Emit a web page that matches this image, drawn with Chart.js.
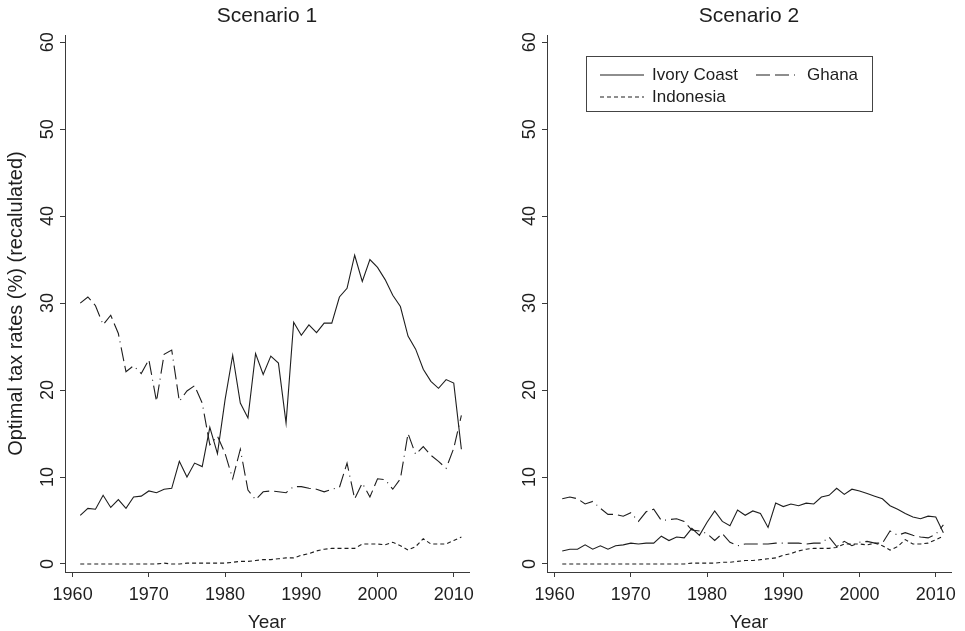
<!DOCTYPE html>
<html>
<head>
<meta charset="utf-8">
<script src="https://cdn.jsdelivr.net/npm/chart.js@4"></script>
<style>
  html, body { margin: 0; padding: 0; background: #fff; }
  #wrap { position: relative; width: 965px; height: 631px; }
  .panel { position: absolute; top: 0; height: 631px; }
</style>
</head>
<body>
<div id="wrap">
  <div class="panel" style="left:0;width:482px"><canvas id="left"></canvas></div>
  <div class="panel" style="left:482px;width:483px"><canvas id="right"></canvas></div>
</div>
<script>
// years 1961-2011
const years = [1961, 1962, 1963, 1964, 1965, 1966, 1967, 1968, 1969, 1970,
  1971, 1972, 1973, 1974, 1975, 1976, 1977, 1978, 1979, 1980,
  1981, 1982, 1983, 1984, 1985, 1986, 1987, 1988, 1989, 1990,
  1991, 1992, 1993, 1994, 1995, 1996, 1997, 1998, 1999, 2000,
  2001, 2002, 2003, 2004, 2005, 2006, 2007, 2008, 2009, 2010,
  2011];

const xTicks = [1960, 1970, 1980, 1990, 2000, 2010];
const yTicks = [0, 10, 20, 30, 40, 50, 60];
const countries = ['Ivory Coast', 'Ghana', 'Indonesia'];

// Scenario 1
const ivory1 = [5.6, 6.4, 6.3, 7.9, 6.5, 7.4, 6.4, 7.7, 7.8, 8.4,
  8.2, 8.6, 8.7, 11.8, 10.0, 11.6, 11.2, 15.7, 12.7, 18.9,
  24.0, 18.5, 16.8, 24.2, 21.8, 23.9, 23.1, 16.2, 27.8, 26.3,
  27.5, 26.6, 27.7, 27.7, 30.7, 31.7, 35.5, 32.5, 35.0, 34.1,
  32.7, 30.9, 29.6, 26.2, 24.7, 22.4, 21.0, 20.2, 21.2, 20.8,
  13.2];
const ghana1 = [30.0, 30.7, 29.7, 27.5, 28.6, 26.5, 22.1, 22.8, 21.9, 23.5,
  18.7, 24.1, 24.6, 18.7, 19.9, 20.5, 18.5, 13.7, 14.7, 12.7,
  9.8, 13.2, 8.5, 7.4, 8.3, 8.4, 8.3, 8.2, 8.9, 8.9,
  8.7, 8.6, 8.3, 8.6, 8.8, 11.6, 7.5, 9.3, 7.7, 9.8,
  9.7, 8.6, 9.8, 15.0, 12.6, 13.5, 12.5, 11.8, 11.0, 13.3,
  17.1];
const indo1 = [0.0, 0.0, 0.0, 0.0, 0.0, 0.0, 0.0, 0.0, 0.0, 0.0,
  0.0, 0.1, 0.0, 0.0, 0.1, 0.1, 0.1, 0.1, 0.1, 0.1,
  0.2, 0.3, 0.3, 0.4, 0.5, 0.5, 0.6, 0.7, 0.7, 1.0,
  1.2, 1.5, 1.7, 1.8, 1.8, 1.8, 1.8, 2.3, 2.3, 2.3,
  2.2, 2.5, 2.1, 1.6, 2.0, 2.9, 2.3, 2.3, 2.3, 2.7,
  3.1];

// Scenario 2
const ivory2 = [1.5, 1.7, 1.7, 2.2, 1.7, 2.1, 1.7, 2.1, 2.2, 2.4,
  2.3, 2.4, 2.4, 3.2, 2.7, 3.1, 3.0, 4.1, 3.3, 4.8,
  6.1, 4.9, 4.4, 6.2, 5.6, 6.1, 5.8, 4.2, 7.0, 6.6,
  6.9, 6.7, 7.0, 6.9, 7.7, 7.9, 8.7, 8.0, 8.6, 8.4,
  8.1, 7.8, 7.5, 6.7, 6.3, 5.8, 5.4, 5.2, 5.5, 5.4,
  3.6];
const ghana2 = [7.5, 7.7, 7.5, 6.9, 7.2, 6.4, 5.7, 5.7, 5.5, 5.9,
  4.9, 6.0, 6.3, 5.0, 5.1, 5.2, 4.9, 3.9, 3.8, 3.5,
  2.7, 3.5, 2.5, 2.1, 2.3, 2.3, 2.3, 2.3, 2.4, 2.4,
  2.4, 2.4, 2.3, 2.4, 2.4, 3.1, 2.0, 2.6, 2.1, 2.5,
  2.6, 2.4, 2.4, 3.8, 3.3, 3.6, 3.3, 3.1, 3.0, 3.4,
  4.5];
const indo2 = [0.0, 0.0, 0.0, 0.0, 0.0, 0.0, 0.0, 0.0, 0.0, 0.0,
  0.0, 0.0, 0.0, 0.0, 0.0, 0.0, 0.0, 0.1, 0.1, 0.1,
  0.1, 0.2, 0.2, 0.3, 0.4, 0.4, 0.5, 0.6, 0.7, 1.0,
  1.2, 1.5, 1.7, 1.8, 1.8, 1.8, 1.9, 2.3, 2.3, 2.3,
  2.2, 2.4, 2.1, 1.6, 2.0, 2.8, 2.3, 2.3, 2.4, 2.8,
  3.2];

const FONT = '"Liberation Sans", Arial, Helvetica, sans-serif';
const INK = '#1e1e1e';
const AXIS = '#3a3a3a';
const dashes = [[], [14, 5, 14, 5, 1, 5], [4, 3]];

function makeDatasets(series) {
  return series.map((vals, i) => ({
    label: countries[i],
    data: vals,
    borderColor: INK,
    borderWidth: 1.1,
    borderDash: dashes[i],
    pointRadius: 0,
    fill: false,
    tension: 0
  }));
}

// rotated y tick labels, as in the original
const yLabels = {
  id: 'yLabels',
  afterDraw(chart) {
    const ctx = chart.ctx, ys = chart.scales.y;
    ctx.save();
    ctx.font = '18px ' + FONT;
    ctx.fillStyle = INK;
    ctx.textAlign = 'center';
    ctx.textBaseline = 'alphabetic';
    yTicks.forEach(v => {
      ctx.save();
      ctx.translate(chart.chartArea.left - 12, ys.getPixelForValue(v));
      ctx.rotate(-Math.PI / 2);
      ctx.fillText(String(v), 0, 0);
      ctx.restore();
    });
    ctx.restore();
  }
};

// boxed two-column legend inside scenario 2
const boxLegend = {
  id: 'boxLegend',
  afterDraw(chart, args, o) {
    if (!o.show) return;
    const ctx = chart.ctx;
    ctx.save();
    ctx.strokeStyle = '#444';
    ctx.lineWidth = 1;
    ctx.strokeRect(o.box[0] + 0.5, o.box[1] + 0.5, o.box[2], o.box[3]);
    ctx.font = '17px ' + FONT;
    ctx.fillStyle = INK;
    ctx.textBaseline = 'alphabetic';
    chart.data.datasets.forEach((ds, i) => {
      const it = o.items[i];
      ctx.beginPath();
      ctx.setLineDash(ds.borderDash);
      ctx.strokeStyle = INK;
      ctx.lineWidth = 1.1;
      ctx.moveTo(it[0], it[2]);
      ctx.lineTo(it[1], it[2]);
      ctx.stroke();
      ctx.setLineDash([]);
      ctx.fillText(ds.label, it[1] + 8, it[2] + 5);
    });
    ctx.restore();
  }
};

function makeChart(id, title, series, rightPad, showYTitle, showLegend) {
  return new Chart(document.getElementById(id), {
    type: 'line',
    data: { labels: years, datasets: makeDatasets(series) },
    options: {
      responsive: true,
      maintainAspectRatio: false,
      animation: false,
      layout: { padding: { top: 0, left: 0, right: rightPad, bottom: 0 } },
      plugins: {
        legend: { display: false },
        tooltip: { enabled: false },
        title: {
          display: true,
          text: title,
          fullSize: false,
          color: INK,
          font: { family: FONT, size: 21, weight: 'normal' },
          padding: { top: 4, bottom: 6 }
        },
        boxLegend: {
          show: showLegend,
          box: [104, 56, 286, 55],
          items: [[118, 162, 75], [274, 317, 75], [118, 162, 97]]
        }
      },
      scales: {
        x: {
          type: 'linear',
          min: 1959,
          max: 2012,
          afterBuildTicks: s => { s.ticks = xTicks.map(v => ({ value: v })); },
          afterFit: s => { s.height = 59; },
          grid: { drawOnChartArea: false, drawTicks: true, tickLength: 5, color: AXIS },
          border: { display: true, color: AXIS, width: 1 },
          ticks: {
            color: INK,
            font: { family: FONT, size: 18 },
            padding: 7,
            maxRotation: 0,
            callback: v => String(v)
          },
          title: {
            display: true,
            text: 'Year',
            color: INK,
            font: { family: FONT, size: 19, lineHeight: 0.9 },
            padding: { top: 0, bottom: 0 }
          }
        },
        y: {
          min: -0.92,
          max: 60.8,
          afterBuildTicks: s => { s.ticks = yTicks.map(v => ({ value: v })); },
          afterFit: s => { s.width = 65; },
          grid: { drawOnChartArea: false, drawTicks: true, tickLength: 5, color: AXIS },
          border: { display: true, color: AXIS, width: 1 },
          ticks: { display: false },
          title: {
            display: showYTitle,
            text: 'Optimal tax rates (%) (recalulated)',
            color: INK,
            font: { family: FONT, size: 20 },
            padding: { top: 4, bottom: 0 }
          }
        }
      }
    },
    plugins: [yLabels, boxLegend]
  });
}

makeChart('left', 'Scenario 1', [ivory1, ghana1, indo1], 13, true, false);
makeChart('right', 'Scenario 2', [ivory2, ghana2, indo2], 14, false, true);
</script>
</body>
</html>
